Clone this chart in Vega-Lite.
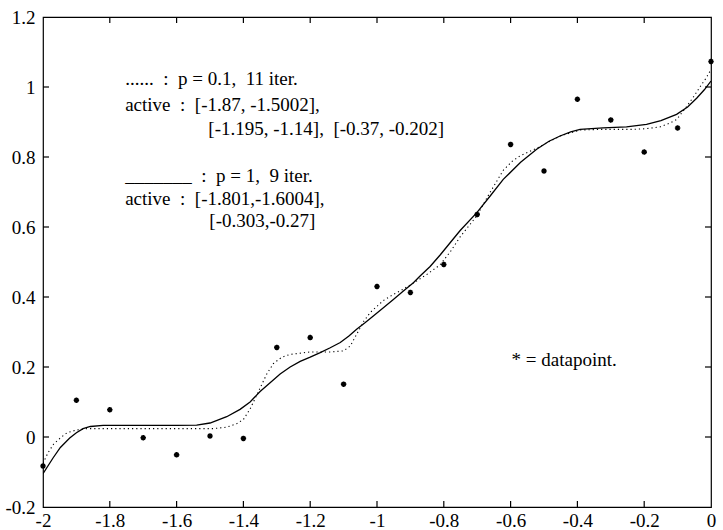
{
  "$schema": "https://vega.github.io/schema/vega-lite/v6.json",
  "width": 668,
  "height": 490,
  "autosize": {"type": "none"},
  "padding": {"left": 43, "top": 17, "right": 12, "bottom": 23},
  "background": "white",
  "config": {
    "view": {"stroke": "black", "strokeWidth": 1.2},
    "axis": {
      "grid": false,
      "domain": false,
      "ticks": false,
      "labelColor": "black",
      "labelFont": "Liberation Serif",
      "labelFontSize": 19,
      "title": null
    },
    "text": {"font": "Liberation Serif"}
  },
  "datasets": {
    "fit": [
      {"x": -2, "y": -0.105, "c": "p1"}, {"x": -1.97, "y": -0.06, "c": "p1"}, {"x": -1.948, "y": -0.03, "c": "p1"},
      {"x": -1.92, "y": -0.003, "c": "p1"}, {"x": -1.9, "y": 0.012, "c": "p1"}, {"x": -1.88, "y": 0.024, "c": "p1"},
      {"x": -1.858, "y": 0.03, "c": "p1"}, {"x": -1.82, "y": 0.033, "c": "p1"}, {"x": -1.7, "y": 0.033, "c": "p1"},
      {"x": -1.6, "y": 0.033, "c": "p1"}, {"x": -1.54, "y": 0.034, "c": "p1"}, {"x": -1.5, "y": 0.04, "c": "p1"},
      {"x": -1.45, "y": 0.058, "c": "p1"}, {"x": -1.41, "y": 0.079, "c": "p1"}, {"x": -1.38, "y": 0.1, "c": "p1"},
      {"x": -1.35, "y": 0.13, "c": "p1"}, {"x": -1.32, "y": 0.155, "c": "p1"}, {"x": -1.29, "y": 0.18, "c": "p1"},
      {"x": -1.26, "y": 0.2, "c": "p1"}, {"x": -1.23, "y": 0.216, "c": "p1"}, {"x": -1.2, "y": 0.228, "c": "p1"},
      {"x": -1.17, "y": 0.241, "c": "p1"}, {"x": -1.14, "y": 0.255, "c": "p1"}, {"x": -1.11, "y": 0.27, "c": "p1"},
      {"x": -1.085, "y": 0.288, "c": "p1"}, {"x": -1.061, "y": 0.308, "c": "p1"}, {"x": -1.035, "y": 0.327, "c": "p1"},
      {"x": -1.011, "y": 0.346, "c": "p1"}, {"x": -0.98, "y": 0.37, "c": "p1"}, {"x": -0.951, "y": 0.393, "c": "p1"},
      {"x": -0.921, "y": 0.417, "c": "p1"}, {"x": -0.891, "y": 0.441, "c": "p1"}, {"x": -0.871, "y": 0.46, "c": "p1"},
      {"x": -0.841, "y": 0.487, "c": "p1"}, {"x": -0.811, "y": 0.52, "c": "p1"}, {"x": -0.781, "y": 0.555, "c": "p1"},
      {"x": -0.751, "y": 0.59, "c": "p1"}, {"x": -0.701, "y": 0.641, "c": "p1"}, {"x": -0.66, "y": 0.69, "c": "p1"},
      {"x": -0.622, "y": 0.736, "c": "p1"}, {"x": -0.57, "y": 0.785, "c": "p1"}, {"x": -0.522, "y": 0.822, "c": "p1"},
      {"x": -0.485, "y": 0.845, "c": "p1"}, {"x": -0.452, "y": 0.86, "c": "p1"}, {"x": -0.42, "y": 0.872, "c": "p1"},
      {"x": -0.392, "y": 0.879, "c": "p1"}, {"x": -0.323, "y": 0.883, "c": "p1"}, {"x": -0.253, "y": 0.886, "c": "p1"},
      {"x": -0.193, "y": 0.893, "c": "p1"}, {"x": -0.15, "y": 0.904, "c": "p1"}, {"x": -0.103, "y": 0.922, "c": "p1"},
      {"x": -0.07, "y": 0.943, "c": "p1"}, {"x": -0.043, "y": 0.968, "c": "p1"}, {"x": -0.02, "y": 0.992, "c": "p1"},
      {"x": 0, "y": 1.017, "c": "p1"},
      {"x": -2, "y": -0.075, "c": "p01"}, {"x": -1.985, "y": -0.045, "c": "p01"}, {"x": -1.968, "y": -0.02, "c": "p01"},
      {"x": -1.945, "y": 0.0, "c": "p01"}, {"x": -1.928, "y": 0.012, "c": "p01"}, {"x": -1.9, "y": 0.02, "c": "p01"},
      {"x": -1.868, "y": 0.024, "c": "p01"}, {"x": -1.8, "y": 0.024, "c": "p01"}, {"x": -1.6, "y": 0.024, "c": "p01"},
      {"x": -1.49, "y": 0.024, "c": "p01"}, {"x": -1.45, "y": 0.028, "c": "p01"}, {"x": -1.42, "y": 0.038, "c": "p01"},
      {"x": -1.4, "y": 0.05, "c": "p01"}, {"x": -1.38, "y": 0.08, "c": "p01"}, {"x": -1.365, "y": 0.11, "c": "p01"},
      {"x": -1.35, "y": 0.14, "c": "p01"}, {"x": -1.33, "y": 0.18, "c": "p01"}, {"x": -1.31, "y": 0.21, "c": "p01"},
      {"x": -1.285, "y": 0.228, "c": "p01"}, {"x": -1.26, "y": 0.236, "c": "p01"}, {"x": -1.2, "y": 0.243, "c": "p01"},
      {"x": -1.14, "y": 0.243, "c": "p01"}, {"x": -1.1, "y": 0.246, "c": "p01"}, {"x": -1.08, "y": 0.26, "c": "p01"},
      {"x": -1.06, "y": 0.295, "c": "p01"}, {"x": -1.04, "y": 0.33, "c": "p01"}, {"x": -1.02, "y": 0.356, "c": "p01"},
      {"x": -0.981, "y": 0.39, "c": "p01"}, {"x": -0.95, "y": 0.408, "c": "p01"}, {"x": -0.931, "y": 0.417, "c": "p01"},
      {"x": -0.891, "y": 0.44, "c": "p01"}, {"x": -0.85, "y": 0.465, "c": "p01"}, {"x": -0.811, "y": 0.492, "c": "p01"},
      {"x": -0.78, "y": 0.53, "c": "p01"}, {"x": -0.751, "y": 0.572, "c": "p01"}, {"x": -0.701, "y": 0.632, "c": "p01"},
      {"x": -0.662, "y": 0.698, "c": "p01"}, {"x": -0.622, "y": 0.762, "c": "p01"}, {"x": -0.595, "y": 0.788, "c": "p01"},
      {"x": -0.572, "y": 0.803, "c": "p01"}, {"x": -0.522, "y": 0.825, "c": "p01"}, {"x": -0.452, "y": 0.86, "c": "p01"},
      {"x": -0.392, "y": 0.877, "c": "p01"}, {"x": -0.323, "y": 0.879, "c": "p01"}, {"x": -0.233, "y": 0.879, "c": "p01"},
      {"x": -0.193, "y": 0.881, "c": "p01"}, {"x": -0.153, "y": 0.886, "c": "p01"}, {"x": -0.123, "y": 0.897, "c": "p01"},
      {"x": -0.103, "y": 0.907, "c": "p01"}, {"x": -0.073, "y": 0.944, "c": "p01"}, {"x": -0.05, "y": 0.975, "c": "p01"},
      {"x": -0.033, "y": 1.0, "c": "p01"}, {"x": -0.015, "y": 1.025, "c": "p01"}, {"x": 0, "y": 1.05, "c": "p01"}
    ],
    "pts": [
      {"x": -2, "y": -0.083}, {"x": -1.9, "y": 0.105}, {"x": -1.8, "y": 0.078}, {"x": -1.7, "y": -0.002},
      {"x": -1.6, "y": -0.051}, {"x": -1.5, "y": 0.003}, {"x": -1.4, "y": -0.004}, {"x": -1.3, "y": 0.256},
      {"x": -1.2, "y": 0.284}, {"x": -1.1, "y": 0.151}, {"x": -1.0, "y": 0.43}, {"x": -0.9, "y": 0.413},
      {"x": -0.8, "y": 0.493}, {"x": -0.7, "y": 0.636}, {"x": -0.6, "y": 0.836}, {"x": -0.5, "y": 0.76},
      {"x": -0.4, "y": 0.965}, {"x": -0.3, "y": 0.906}, {"x": -0.2, "y": 0.814}, {"x": -0.1, "y": 0.883},
      {"x": 0, "y": 1.073}
    ],
    "xticks": [{"v": -1.8}, {"v": -1.6}, {"v": -1.4}, {"v": -1.2}, {"v": -1}, {"v": -0.8}, {"v": -0.6}, {"v": -0.4}, {"v": -0.2}],
    "yticks": [{"v": 0}, {"v": 0.2}, {"v": 0.4}, {"v": 0.6}, {"v": 0.8}, {"v": 1}],
    "notes": [
      {"x": -1.754, "y": 1.022, "t": "...... \u00a0: \u00a0p = 0.1, \u00a011 iter."},
      {"x": -1.754, "y": 0.948, "t": "active \u00a0: \u00a0[-1.87, -1.5002],"},
      {"x": -1.505, "y": 0.881, "t": "[-1.195, -1.14], \u00a0[-0.37, -0.202]"},
      {"x": -1.754, "y": 0.746, "t": "_______ \u00a0: \u00a0p = 1, \u00a09 iter."},
      {"x": -1.754, "y": 0.679, "t": "active \u00a0: \u00a0[-1.801,-1.6004],"},
      {"x": -1.502, "y": 0.617, "t": "[-0.303,-0.27]"},
      {"x": -0.597, "y": 0.22, "t": "* = datapoint."}
    ]
  },
  "layer": [
    {
      "data": {"name": "fit"},
      "transform": [{"filter": "datum.c === 'p1'"}],
      "mark": {"type": "line", "color": "black", "strokeWidth": 1.3, "clip": true},
      "encoding": {
        "x": {"field": "x", "type": "quantitative",
              "scale": {"domain": [-2, 0], "nice": false, "zero": false},
              "axis": {"orient": "bottom", "values": [-2, -1.8, -1.6, -1.4, -1.2, -1, -0.8, -0.6, -0.4, -0.2, 0],
                       "labelExpr": "toString(datum.value)", "labelPadding": 4, "labelFlush": false}},
        "y": {"field": "y", "type": "quantitative",
              "scale": {"domain": [-0.2, 1.2], "nice": false, "zero": false},
              "axis": {"orient": "left", "values": [-0.2, 0, 0.2, 0.4, 0.6, 0.8, 1, 1.2],
                       "labelExpr": "toString(datum.value)", "labelPadding": 8, "labelFlush": false}},
        "order": {"field": "x", "type": "quantitative"}
      }
    },
    {
      "data": {"name": "fit"},
      "transform": [{"filter": "datum.c === 'p01'"}],
      "mark": {"type": "line", "color": "black", "strokeWidth": 1.1, "strokeDash": [1.2, 3], "clip": true},
      "encoding": {
        "x": {"field": "x", "type": "quantitative"},
        "y": {"field": "y", "type": "quantitative"},
        "order": {"field": "x", "type": "quantitative"}
      }
    },
    {
      "data": {"name": "xticks"},
      "mark": {"type": "tick", "orient": "vertical", "size": 12, "thickness": 1.2, "color": "black", "opacity": 1, "clip": true},
      "encoding": {
        "x": {"field": "v", "type": "quantitative"},
        "y": {"datum": -0.2, "type": "quantitative"}
      }
    },
    {
      "data": {"name": "xticks"},
      "mark": {"type": "tick", "orient": "vertical", "size": 12, "thickness": 1.2, "color": "black", "opacity": 1, "clip": true},
      "encoding": {
        "x": {"field": "v", "type": "quantitative"},
        "y": {"datum": 1.2, "type": "quantitative"}
      }
    },
    {
      "data": {"name": "yticks"},
      "mark": {"type": "tick", "orient": "horizontal", "size": 12, "thickness": 1.2, "color": "black", "opacity": 1, "clip": true},
      "encoding": {
        "y": {"field": "v", "type": "quantitative"},
        "x": {"datum": -2, "type": "quantitative"}
      }
    },
    {
      "data": {"name": "yticks"},
      "mark": {"type": "tick", "orient": "horizontal", "size": 12, "thickness": 1.2, "color": "black", "opacity": 1, "clip": true},
      "encoding": {
        "y": {"field": "v", "type": "quantitative"},
        "x": {"datum": 0, "type": "quantitative"}
      }
    },
    {
      "data": {"name": "pts"},
      "mark": {"type": "point", "shape": "M-1,0L1,0M0,-1L0,1M-0.7,-0.7L0.7,0.7M-0.7,0.7L0.7,-0.7",
               "filled": false, "stroke": "black", "strokeWidth": 1.6, "size": 30, "opacity": 1},
      "encoding": {
        "x": {"field": "x", "type": "quantitative"},
        "y": {"field": "y", "type": "quantitative"}
      }
    },
    {
      "data": {"name": "notes"},
      "mark": {"type": "text", "align": "left", "baseline": "middle", "fontSize": 19, "color": "black", "font": "Liberation Serif"},
      "encoding": {
        "x": {"field": "x", "type": "quantitative"},
        "y": {"field": "y", "type": "quantitative"},
        "text": {"field": "t", "type": "nominal"}
      }
    }
  ]
}
